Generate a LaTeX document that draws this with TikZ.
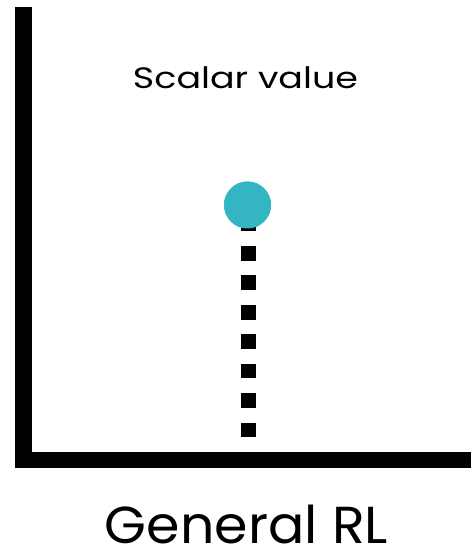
\documentclass[tikz,border=0pt]{standalone}
\usepackage{fontspec}
\usepackage{graphicx}
\setmainfont{Poppins}
\definecolor{dotteal}{HTML}{33B5C4}
\begin{document}
\begin{tikzpicture}[x=1pt,y=1pt,
  axis/.style={line width=16.5pt, line join=miter, line cap=butt},
  stem/.style={line width=14.7pt, dash pattern=on 14.7pt off 14.73pt, dash phase=17.8pt},
  ball/.style={circle, fill=dotteal, minimum size=47pt, inner sep=0pt},
  lbl/.style={anchor=base, inner sep=0pt}]
\useasboundingbox (0,0) rectangle (471,551);
\coordinate (top) at (23.6,544);
\coordinate (origin) at (23.6,91);
\coordinate (right) at (471,91);
\coordinate (foot) at (248.3,91);
\node[ball] (dot) at (247.5,346) {};
\draw[stem] (248.3,346) -- (foot);
\node[ball] at (dot.center) {};
\draw[axis] (top) -- (origin) -- (right);
\node[lbl, font=\fontsize{29.5}{30}\selectfont] (title) at (245.5,462) {\resizebox{225pt}{\height}{Scalar value}};
\node[lbl, font=\fontsize{52}{53}\selectfont] (caption) at (246.5,7) {\resizebox{283pt}{\height}{General RL}};
\end{tikzpicture}
\end{document}
